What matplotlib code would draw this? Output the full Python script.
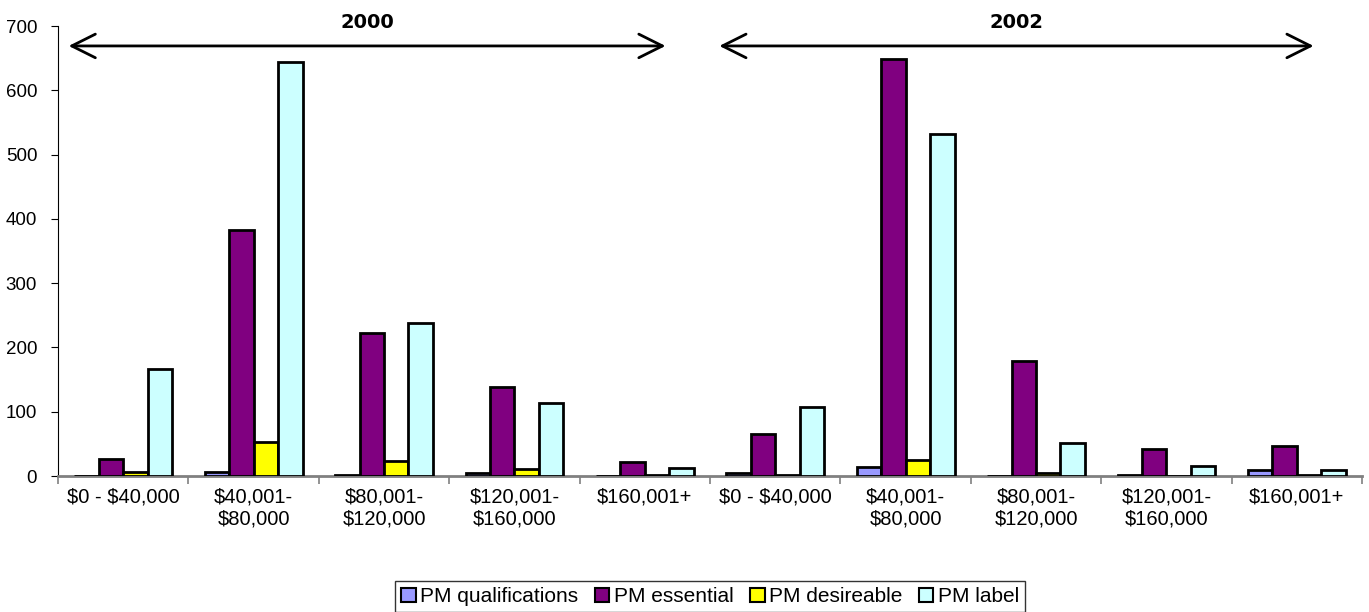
import numpy as np
import matplotlib.pyplot as plt

plt.rcParams['font.family'] = ['Liberation Sans', 'DejaVu Sans']
plt.rcParams['text.parse_math'] = False

# salary bands, first five are 2000, last five are 2002
bands = ['$0 - $40,000', '$40,001-\n$80,000', '$80,001-\n$120,000',
         '$120,001-\n$160,000', '$160,001+']
categories = bands + bands

pm_qualifications = [0, 7, 2, 4, 0, 5, 14, 0, 1, 9]
pm_essential = [26, 383, 222, 138, 22, 66, 649, 179, 42, 47]
pm_desireable = [6, 53, 24, 11, 1, 2, 25, 5, 0, 2]
pm_label = [166, 644, 238, 114, 13, 108, 532, 52, 15, 10]

series = [('PM qualifications', pm_qualifications, '#9999FF'),
          ('PM essential', pm_essential, '#800080'),
          ('PM desireable', pm_desireable, '#FFFF00'),
          ('PM label', pm_label, '#CCFFFF')]

fig = plt.figure(figsize=(13.69, 6.12), dpi=100)
ax = fig.add_axes([0.0424, 0.2222, 0.9525, 0.7353])

x = np.arange(len(categories))
w = 0.1875
for i, (name, vals, col) in enumerate(series):
    ax.bar(x + (i - 1.5) * w, vals, w, color=col, edgecolor='black',
           linewidth=2, label=name, zorder=3)

ax.set_xlim(-0.5, len(categories) - 0.5)
ax.set_ylim(0, 700)
ax.set_yticks(range(0, 701, 100))
ax.tick_params(axis='y', labelsize=13.5, direction='out', length=5,
               color='black', pad=10)

# labels at the centres, tick marks at the band boundaries
ax.set_xticks(x)
ax.set_xticklabels(categories, fontsize=14.5)
ax.set_xticks(np.arange(-0.5, len(categories), 1), minor=True)
ax.tick_params(axis='x', which='major', length=0, pad=8)
ax.tick_params(axis='x', which='minor', length=6, color='#808080', width=1.2)

ax.spines['top'].set_visible(False)
ax.spines['right'].set_visible(False)
ax.spines['bottom'].set_color('#808080')
ax.spines['bottom'].set_linewidth(2)
ax.spines['left'].set_color('black')

# year arrows across the top
arrow = dict(arrowstyle='<->,head_length=1.7,head_width=0.85', lw=2, color='black')
ax.annotate('', xy=(-0.44, 669), xytext=(4.18, 669), arrowprops=arrow,
            annotation_clip=False)
ax.annotate('', xy=(4.55, 669), xytext=(9.15, 669), arrowprops=arrow,
            annotation_clip=False)
ax.text(1.87, 705, '2000', ha='center', va='center', fontsize=14,
        fontweight='bold', family='DejaVu Sans', clip_on=False)
ax.text(6.85, 705, '2002', ha='center', va='center', fontsize=14,
        fontweight='bold', family='DejaVu Sans', clip_on=False)

leg = ax.legend(loc='upper center', bbox_to_anchor=(0.5, -0.21), ncol=4,
                fontsize=15, frameon=True, fancybox=False, edgecolor='black',
                handlelength=0.7, handleheight=0.7, handletextpad=0.2,
                columnspacing=0.8, borderpad=0.3)
leg.get_frame().set_linewidth(1)
for h in leg.legend_handles:
    h.set_linewidth(1.5)

fig.savefig('out.png', dpi=100)
